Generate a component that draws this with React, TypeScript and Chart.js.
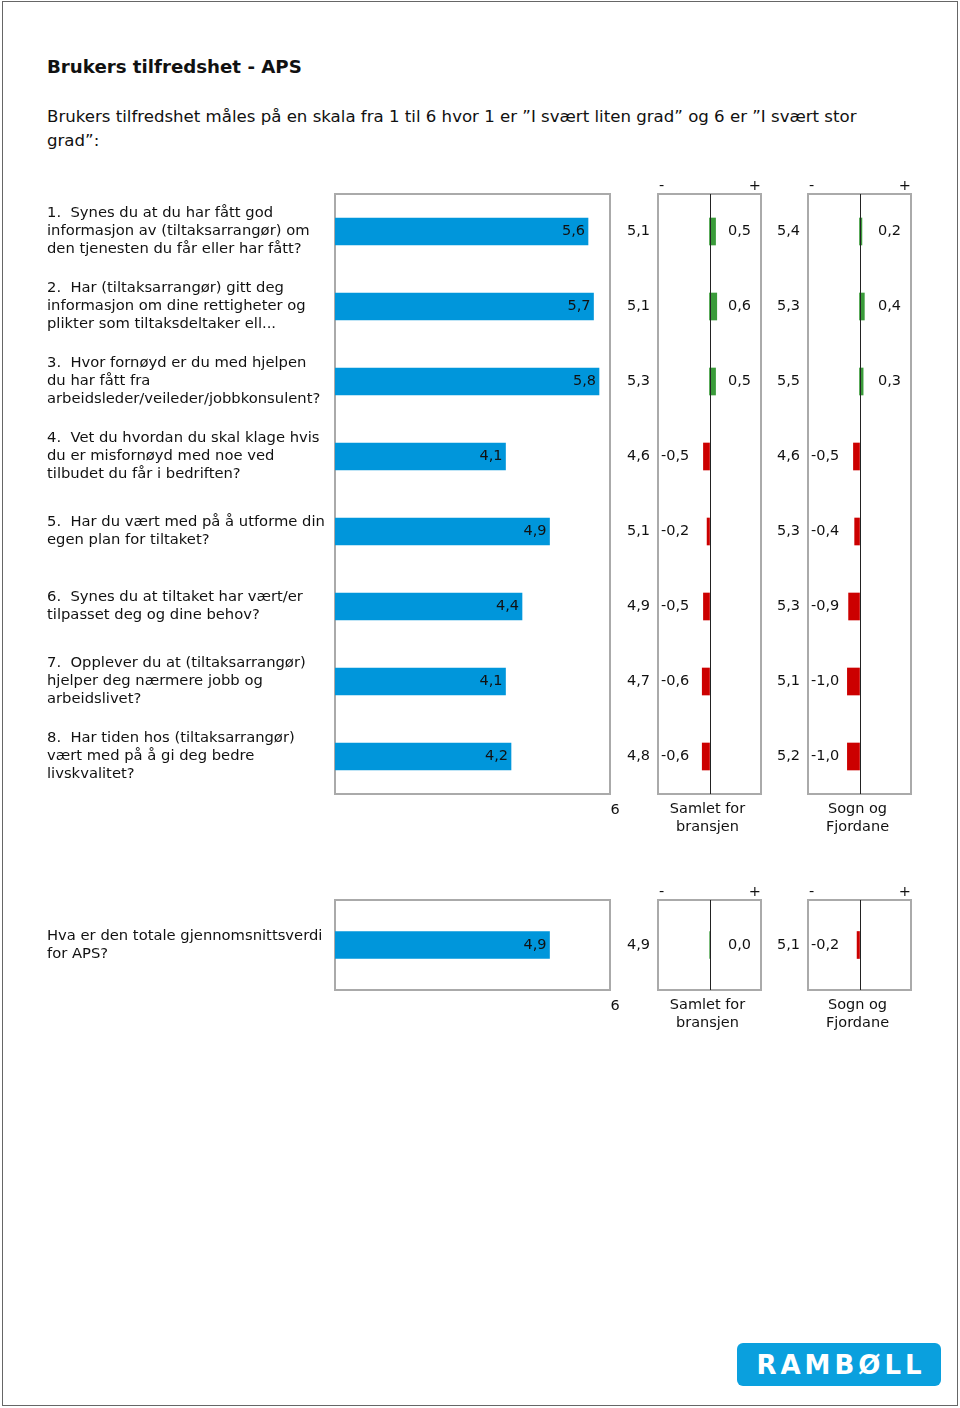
import React, { useEffect, useRef } from "react";
import { Chart, registerables } from "chart.js";
Chart.register(...registerables);

const FONT = "'DejaVu Sans', Verdana, sans-serif";
const TEXT = "#111111";
const BLUE = "#0096DB";
const GREEN = "#3A9B3A";
const RED = "#CC0000";
const BOX = "#AAAAAA";

// ---- data ----
const questionLabels: string[][] = [
  ["1.  Synes du at du har fått god", "informasjon av (tiltaksarrangør) om", "den tjenesten du får eller har fått?"],
  ["2.  Har (tiltaksarrangør) gitt deg", "informasjon om dine rettigheter og", "plikter som tiltaksdeltaker ell..."],
  ["3.  Hvor fornøyd er du med hjelpen", "du har fått fra", "arbeidsleder/veileder/jobbkonsulent?"],
  ["4.  Vet du hvordan du skal klage hvis", "du er misfornøyd med noe ved", "tilbudet du får i bedriften?"],
  ["5.  Har du vært med på å utforme din", "egen plan for tiltaket?"],
  ["6.  Synes du at tiltaket har vært/er", "tilpasset deg og dine behov?"],
  ["7.  Opplever du at (tiltaksarrangør)", "hjelper deg nærmere jobb og", "arbeidslivet?"],
  ["8.  Har tiden hos (tiltaksarrangør)", "vært med på å gi deg bedre", "livskvalitet?"],
];
const apsScore = [5.6, 5.7, 5.8, 4.1, 4.9, 4.4, 4.1, 4.2];
const samletScore = [5.1, 5.1, 5.3, 4.6, 5.1, 4.9, 4.7, 4.8];
const samletDiff = [0.5, 0.6, 0.5, -0.5, -0.2, -0.5, -0.6, -0.6];
const sognScore = [5.4, 5.3, 5.5, 4.6, 5.3, 5.3, 5.1, 5.2];
const sognDiff = [0.2, 0.4, 0.3, -0.5, -0.4, -0.9, -1.0, -1.0];

const totalLabel: string[][] = [["Hva er den totale gjennomsnittsverdi", "for APS?"]];
const totalScore = [4.9];
const totalSamletScore = [4.9];
const totalSamletDiff = [0.0];
const totalSognScore = [5.1];
const totalSognDiff = [-0.2];

const scaleMin = 1;
const scaleMax = 6;
const scaleEndLabel = "6";
const samletTitle = ["Samlet for", "bransjen"];
const sognTitle = ["Sogn og", "Fjordane"];
const diffMin = -4.25;
const diffMax = 4.25;

const fmt = (v: number) => v.toFixed(1).replace(".", ",");
const font = (size: number, bold = false) => `${bold ? "bold " : ""}${size}px ${FONT}`;

function mainDecor(values: number[]) {
  return {
    id: "mainDecor",
    beforeDatasetsDraw(chart: any) {
      const { ctx, chartArea: a } = chart;
      ctx.save();
      ctx.strokeStyle = BOX;
      ctx.lineWidth = 2;
      ctx.strokeRect(a.left, a.top, a.right - a.left, a.bottom - a.top);
      ctx.restore();
    },
    afterDatasetsDraw(chart: any) {
      const { ctx, chartArea: a } = chart;
      const meta = chart.getDatasetMeta(0);
      ctx.save();
      ctx.font = font(14.5);
      ctx.fillStyle = TEXT;
      ctx.textBaseline = "middle";
      ctx.textAlign = "right";
      meta.data.forEach((el: any, i: number) => {
        ctx.fillText(fmt(values[i]), el.x - 3, el.y);
      });
      ctx.textAlign = "center";
      const xs = chart.scales.x;
      ctx.fillText(scaleEndLabel, xs.getPixelForValue(scaleMax) + 5, a.bottom + 16);
      ctx.restore();
    },
  };
}

function panelDecor(diffs: number[], title: string[]) {
  return {
    id: "panelDecor",
    beforeDatasetsDraw(chart: any) {
      const { ctx, chartArea: a } = chart;
      ctx.save();
      ctx.strokeStyle = BOX;
      ctx.lineWidth = 2;
      ctx.strokeRect(a.left, a.top, a.right - a.left, a.bottom - a.top);
      ctx.restore();
    },
    afterDatasetsDraw(chart: any) {
      const { ctx, chartArea: a } = chart;
      const xs = chart.scales.x;
      const zero = Math.round(xs.getPixelForValue(0)) + 0.5;
      ctx.save();
      ctx.strokeStyle = "#222222";
      ctx.lineWidth = 1;
      ctx.beginPath();
      ctx.moveTo(zero, a.top);
      ctx.lineTo(zero, a.bottom);
      ctx.stroke();

      ctx.font = font(14.5);
      ctx.fillStyle = TEXT;
      ctx.textBaseline = "middle";
      const meta = chart.getDatasetMeta(0);
      meta.data.forEach((el: any, i: number) => {
        const d = diffs[i];
        if (d >= 0) {
          ctx.textAlign = "right";
          ctx.fillText(fmt(d), a.right - 10, el.y);
        } else {
          ctx.textAlign = "left";
          ctx.fillText(fmt(d), a.left + 3, el.y);
        }
      });
      // header - / +
      ctx.textAlign = "left";
      ctx.fillText("-", a.left + 1, a.top - 8);
      ctx.textAlign = "right";
      ctx.fillText("+", a.right, a.top - 8);
      // bottom title
      ctx.textAlign = "center";
      const cx = (a.left + a.right) / 2 - 2;
      title.forEach((t, k) => ctx.fillText(t, cx, a.bottom + 15 + k * 18));
      ctx.restore();
    },
  };
}

function mainConfig(labels: string[][], values: number[], padTop: number, padBottom: number): any {
  return {
    type: "bar",
    data: {
      labels,
      datasets: [
        { data: values, base: scaleMin, backgroundColor: BLUE, barThickness: 27, borderWidth: 0 },
      ],
    },
    options: {
      indexAxis: "y",
      responsive: false,
      animation: false,
      events: [],
      layout: { padding: { left: 0, top: padTop, right: 15, bottom: padBottom } },
      plugins: { legend: { display: false }, tooltip: { enabled: false } },
      scales: {
        x: { type: "linear", min: scaleMin, max: scaleMax, display: false },
        y: {
          grid: { display: false, drawTicks: false },
          border: { display: false },
          ticks: {
            autoSkip: false,
            crossAlign: "far",
            padding: 0,
            color: TEXT,
            font: { family: FONT, size: 14.75, lineHeight: 18 / 14.75 },
          },
          afterFit: (s: any) => {
            s.width = 288;
            s.paddingTop = 0;
            s.paddingBottom = 0;
          },
        },
      },
    },
    plugins: [mainDecor(values)],
  };
}

function panelConfig(labels: string[][], comp: number[], diffs: number[], title: string[], padTop: number, padBottom: number): any {
  return {
    type: "bar",
    data: {
      labels,
      datasets: [
        {
          data: diffs,
          backgroundColor: diffs.map((d) => (d >= 0 ? GREEN : RED)),
          barThickness: 27,
          borderWidth: 0,
        },
      ],
    },
    options: {
      indexAxis: "y",
      responsive: false,
      animation: false,
      events: [],
      layout: { padding: { left: 0, top: padTop, right: 4, bottom: padBottom } },
      plugins: { legend: { display: false }, tooltip: { enabled: false } },
      scales: {
        x: { type: "linear", min: diffMin, max: diffMax, display: false },
        y: {
          grid: { display: false, drawTicks: false },
          border: { display: false },
          ticks: {
            autoSkip: false,
            padding: 8,
            color: TEXT,
            font: { family: FONT, size: 14.5 },
            callback: (_v: any, i: number) => fmt(comp[i]),
          },
          afterFit: (s: any) => {
            s.width = 48;
            s.paddingTop = 0;
            s.paddingBottom = 0;
          },
        },
      },
    },
    plugins: [panelDecor(diffs, title)],
  };
}

function ChartCanvas(props: { left: number; top: number; width: number; height: number; make: () => any }) {
  const ref = useRef<HTMLCanvasElement>(null);
  useEffect(() => {
    const chart = new Chart(ref.current as HTMLCanvasElement, props.make());
    return () => chart.destroy();
  }, []);
  const { left, top, width, height } = props;
  return (
    <canvas
      ref={ref}
      width={width}
      height={height}
      style={{ position: "absolute", left, top, width, height }}
    />
  );
}

export default function App() {
  return (
    <div
      style={{
        position: "absolute",
        left: 0,
        top: 0,
        width: 960,
        height: 1408,
        background: "#fff",
        fontFamily: FONT,
        color: TEXT,
        overflow: "hidden",
      }}
    >
      <div
        style={{
          position: "absolute",
          left: 2,
          top: 1,
          width: 956,
          height: 1405,
          border: "1px solid #666",
          boxSizing: "border-box",
        }}
      />
      <div style={{ position: "absolute", left: 47, top: 56, fontSize: 18.2, fontWeight: "bold", lineHeight: "22px", whiteSpace: "nowrap" }}>
        Brukers tilfredshet - APS
      </div>
      <div style={{ position: "absolute", left: 47, top: 105, fontSize: 16.6, lineHeight: "24px", whiteSpace: "nowrap" }}>
        Brukers tilfredshet måles på en skala fra 1 til 6 hvor 1 er ”I svært liten grad” og 6 er ”I svært stor
        <br />
        grad”:
      </div>

      {/* Question block */}
      <ChartCanvas left={47} top={189} width={578} height={655} make={() => mainConfig(questionLabels, apsScore, 5, 50)} />
      <ChartCanvas left={610} top={171} width={155} height={670} make={() => panelConfig(questionLabels, samletScore, samletDiff, samletTitle, 23, 47)} />
      <ChartCanvas left={760} top={171} width={155} height={670} make={() => panelConfig(questionLabels, sognScore, sognDiff, sognTitle, 23, 47)} />

      {/* Total block */}
      <ChartCanvas left={47} top={895} width={578} height={145} make={() => mainConfig(totalLabel, totalScore, 5, 50)} />
      <ChartCanvas left={610} top={877} width={155} height={160} make={() => panelConfig(totalLabel, totalSamletScore, totalSamletDiff, samletTitle, 23, 47)} />
      <ChartCanvas left={760} top={877} width={155} height={160} make={() => panelConfig(totalLabel, totalSognScore, totalSognDiff, sognTitle, 23, 47)} />

      {/* Logo */}
      <div
        style={{
          position: "absolute",
          left: 737,
          top: 1343,
          width: 204,
          height: 43,
          background: "#0AA0DE",
          borderRadius: 6,
          color: "#fff",
          fontWeight: "bold",
          fontSize: 26,
          letterSpacing: 4,
          display: "flex",
          alignItems: "center",
          justifyContent: "center",
          paddingLeft: 4,
          boxSizing: "border-box",
        }}
      >
        RAMBØLL
      </div>
    </div>
  );
}
